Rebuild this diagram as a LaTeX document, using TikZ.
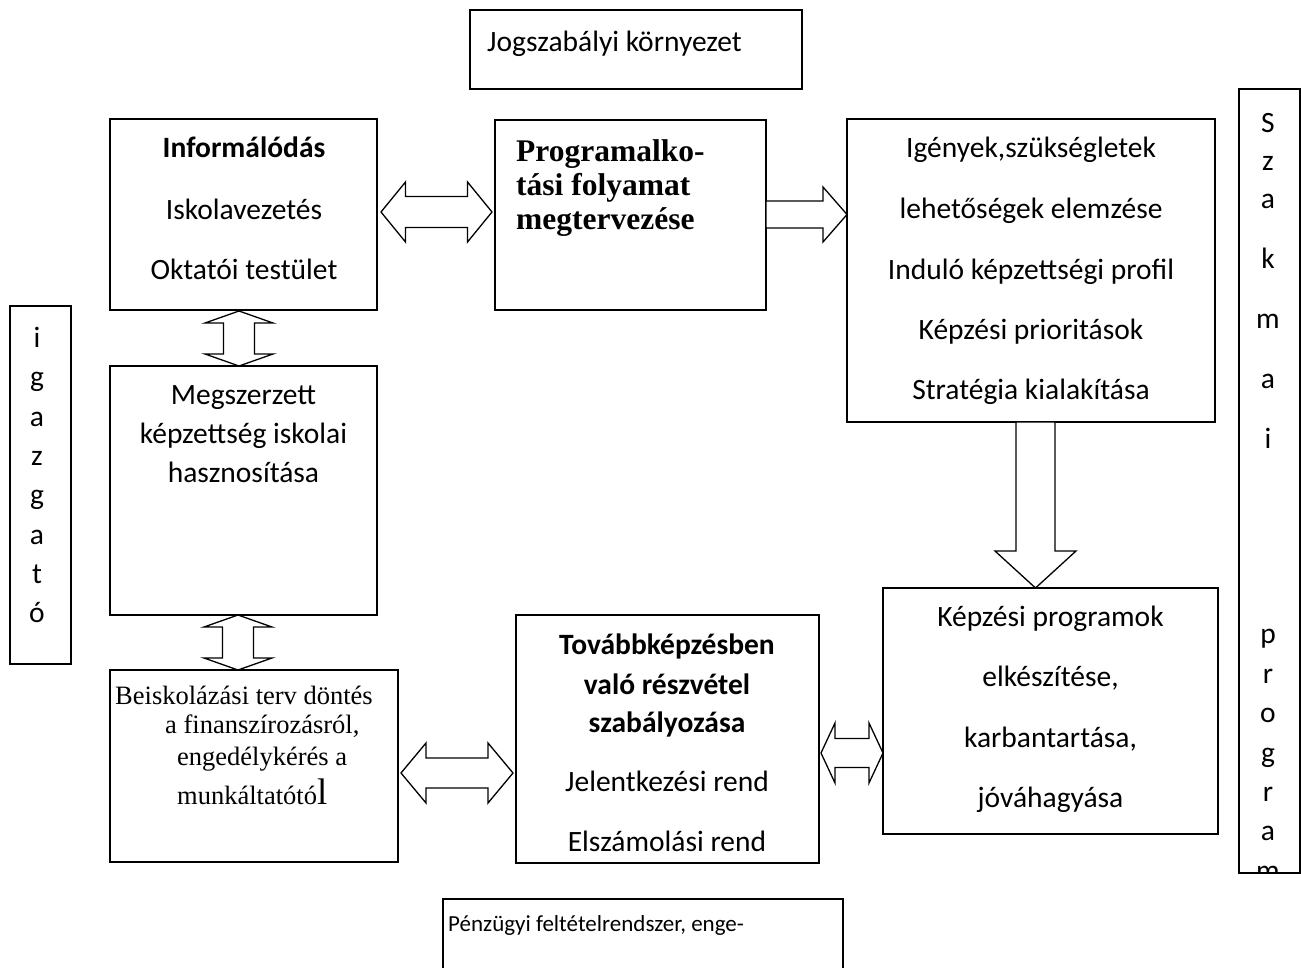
\documentclass[tikz,border=0pt]{standalone}
\usepackage{fontspec}
\setmainfont{Carlito}
\newfontfamily\tms{Liberation Serif}
\usetikzlibrary{calc}
\newcommand\hdarr[6]{%
\draw[blk] let \p1=(#1), \p2=(#2) in
 (\x1,{-#3pt}) -- ({\x1+#4pt},{-#3pt+#5pt}) -- ({\x1+#4pt},{-#3pt+#6pt}) -- ({\x2-#4pt},{-#3pt+#6pt})
 -- ({\x2-#4pt},{-#3pt+#5pt}) -- (\x2,{-#3pt}) -- ({\x2-#4pt},{-#3pt-#5pt}) -- ({\x2-#4pt},{-#3pt-#6pt})
 -- ({\x1+#4pt},{-#3pt-#6pt}) -- ({\x1+#4pt},{-#3pt-#5pt}) -- cycle;}
\newcommand\vdarr[6]{%
\draw[blk] let \p1=(#1), \p2=(#2) in
 ({#3pt},\y1) -- ({#3pt+#5pt},{\y1-#4pt}) -- ({#3pt+#6pt},{\y1-#4pt}) -- ({#3pt+#6pt},{\y2+#4pt})
 -- ({#3pt+#5pt},{\y2+#4pt}) -- ({#3pt},\y2) -- ({#3pt-#5pt},{\y2+#4pt}) -- ({#3pt-#6pt},{\y2+#4pt})
 -- ({#3pt-#6pt},{\y1-#4pt}) -- ({#3pt-#5pt},{\y1-#4pt}) -- cycle;}
\newcommand\rarr[6]{%
\draw[blk] let \p1=(#1), \p2=(#2) in
 (\x1,{-#3pt+#6pt}) -- ({\x2-#4pt},{-#3pt+#6pt}) -- ({\x2-#4pt},{-#3pt+#5pt}) -- (\x2,{-#3pt})
 -- ({\x2-#4pt},{-#3pt-#5pt}) -- ({\x2-#4pt},{-#3pt-#6pt}) -- (\x1,{-#3pt-#6pt}) -- cycle;}
\newcommand\dnarr[6]{%
\draw[blk] let \p1=(#1), \p2=(#2) in
 ({#3pt-#6pt},\y1) -- ({#3pt-#6pt},{\y2+#4pt}) -- ({#3pt-#5pt},{\y2+#4pt}) -- ({#3pt},\y2)
 -- ({#3pt+#5pt},{\y2+#4pt}) -- ({#3pt+#6pt},{\y2+#4pt}) -- ({#3pt+#6pt},\y1) -- cycle;}
\begin{document}
\begin{tikzpicture}[x=1pt,y=-1pt,
  box/.style={draw,line width=1.6pt,inner sep=0pt,outer sep=0pt},
  blk/.style={draw,line width=1.3pt,fill=white,line join=miter},
  tx/.style={inner sep=0pt,anchor=mid,font=\fontsize{29.5}{35}\selectfont},
  txl/.style={tx,anchor=mid west},
  tb/.style={tx,font=\fontsize{29.5}{35}\selectfont\bfseries},
  ptb/.style={inner sep=0pt,anchor=mid west,font=\fontsize{31.5}{35}\selectfont\tms\bfseries},
  pt/.style={inner sep=0pt,anchor=mid west,font=\fontsize{26.5}{30}\selectfont\tms},
  lt/.style={tx}]
\useasboundingbox[fill=white] (0,0) rectangle (1301,968);

% boxes
\node[box,minimum width=332pt,minimum height=79pt] (jog) at (636,49.5) {};
\node[box,minimum width=267pt,minimum height=191pt] (info) at (243.5,214.5) {};
\node[box,minimum width=271pt,minimum height=190pt] (prog) at (630.5,215) {};
\node[box,minimum width=368pt,minimum height=303pt] (igeny) at (1031,270.5) {};
\node[box,minimum width=61pt,minimum height=784pt] (szak) at (1269.5,481) {};
\node[box,minimum width=61pt,minimum height=358pt] (igaz) at (40.5,485) {};
\node[box,minimum width=267pt,minimum height=249pt] (megsz) at (243.5,490.5) {};
\node[box,minimum width=288pt,minimum height=192pt] (beisk) at (254,766) {};
\node[box,minimum width=303pt,minimum height=248pt] (tovabb) at (667.5,739) {};
\node[box,minimum width=335pt,minimum height=246pt] (kepz) at (1050.5,711) {};
\coordinate (penzA) at (443,968);
\coordinate (penzB) at (443,899);
\coordinate (penzC) at (843,899);
\coordinate (penzD) at (843,968);
\draw[line width=1.6pt] (penzA) -- (penzB) -- (penzC) -- (penzD);

% block arrows
\hdarr{$(info.east)+(4,0)$}{$(prog.west)+(-3,0)$}{212}{24.5}{30}{15.5}
\rarr{prog.east}{igeny.west}{214.5}{24}{27.5}{13.5}
\vdarr{$(info.south)+(0,1)$}{megsz.north}{239}{12}{34}{15.5}
\vdarr{megsz.south}{beisk.north}{238}{12}{34}{15.5}
\dnarr{igeny.south}{kepz.north}{1035.5}{37}{40.5}{19.5}
\hdarr{$(beisk.east)+(3,0)$}{$(tovabb.west)+(-3,0)$}{773}{25}{30}{15}
\hdarr{$(tovabb.east)+(2,0)$}{kepz.west}{753}{14}{30}{14.5}

% texts
\node[txl] (tjog) at (487,49) {Jogszabályi környezet};

\node[tb] (ti1) at (244,155) {Informálódás};
\node[tx] (ti2) at (244,217) {Iskolavezetés};
\node[tx] (ti3) at (244,277) {Oktatói testület};

\node[ptb] (tp1) at (516,159) {Programalko-};
\node[ptb] (tp2) at (516,193) {tási folyamat};
\node[ptb] (tp3) at (516,227) {megtervezése};

\node[tx] (tg1) at (1031,155) {Igények,szükségletek};
\node[tx] (tg2) at (1031,216.5) {lehetőségek elemzése};
\node[tx] (tg3) at (1031,277) {Induló képzettségi profil};
\node[tx] (tg4) at (1031,337) {Képzési prioritások};
\node[tx] (tg5) at (1031,397) {Stratégia kialakítása};

\node[tx] (tm1) at (243.5,402) {Megszerzett};
\node[tx] (tm2) at (243.5,441) {képzettség iskolai};
\node[tx] (tm3) at (243.5,480) {hasznosítása};

\node[pt] (tb1) at (115,702) {Beiskolázási terv döntés};
\node[pt] (tb2) at (165,731) {a finanszírozásról,};
\node[pt] (tb3) at (177,763) {engedélykérés a};
\node[pt] (tb4) at (177,802) {munkáltatótó{\fontsize{37}{40}\selectfont l}};

\node[tb] (tt1) at (667,652) {Továbbképzésben};
\node[tb] (tt2) at (667,692) {való részvétel};
\node[tb] (tt3) at (667,730) {szabályozása};
\node[tx] (tt4) at (667,789) {Jelentkezési rend};
\node[tx] (tt5) at (667,849) {Elszámolási rend};

\node[tx] (tk1) at (1050.5,624) {Képzési programok};
\node[tx] (tk2) at (1050.5,684) {elkészítése,};
\node[tx] (tk3) at (1050.5,745) {karbantartása,};
\node[tx] (tk4) at (1050.5,805) {jóváhagyása};

\node[inner sep=0pt,anchor=mid west,font=\fontsize{23}{27}\selectfont] (tpz) at (448,929) {Pénzügyi feltételrendszer, enge-};

% vertical letters
\foreach \ch/\yy [count=\i] in {S/130,z/168,a/206,k/266,m/326,a/386,i/446,p/641,r/681,o/720,g/760,r/799,a/838}
  \node[lt] (sz\i) at (1268,\yy) {\ch};
\begin{scope}
\clip (1241,854) rectangle (1298,871);
\node[lt] (sz14) at (1268,878) {m};
\end{scope}
\foreach \ch/\yy [count=\i] in {i/345,g/384,a/424,z/463,g/502,a/542,t/581,ó/620}
  \node[lt] (ig\i) at (37,\yy) {\ch};
\end{tikzpicture}
\end{document}
